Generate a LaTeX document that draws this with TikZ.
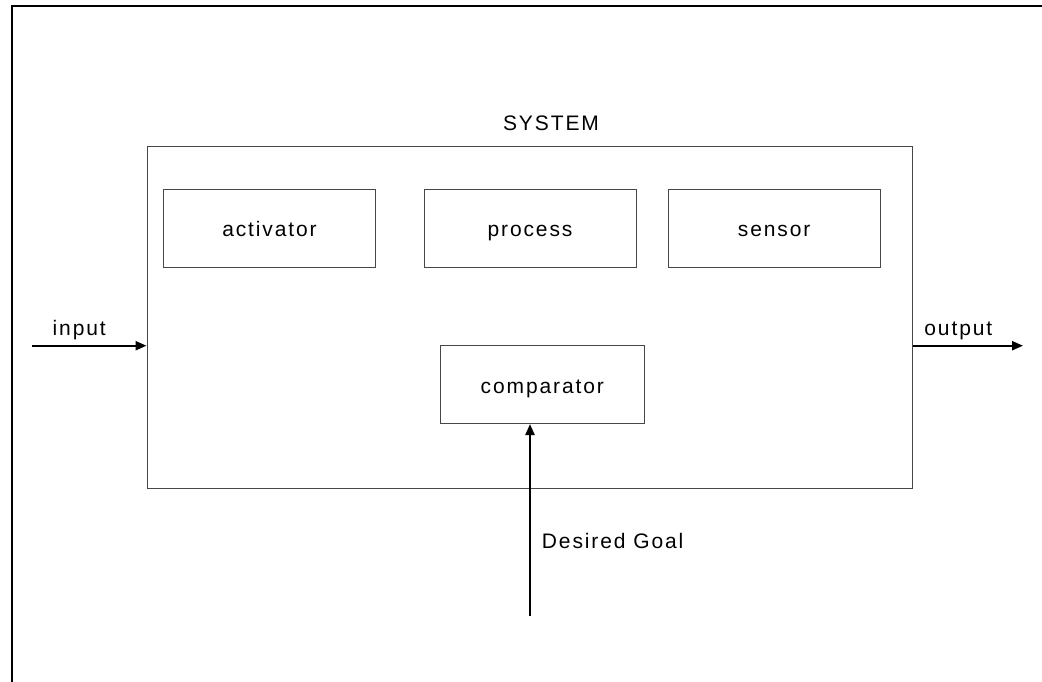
\documentclass[tikz,border=0pt]{standalone}
\usepackage{fontspec}
\setmainfont{Liberation Sans}[LetterSpace=9]
\usetikzlibrary{arrows.meta}
\begin{document}
\begin{tikzpicture}[x=1pt,y=-1pt,
  lbl/.style={inner sep=0pt,font=\fontsize{21}{25}\selectfont},
  blockbox/.style={draw=black!72,line width=1pt,inner sep=0pt,text height=17.4pt,text depth=0pt,font=\fontsize{21}{25}\selectfont},
  flow/.style={line width=2.2pt,-{Triangle[length=11pt,width=9pt]}},
  frame/.style={line width=2.4pt}]
\useasboundingbox (0,0) rectangle (1042,681);
% outer frame (cropped on the right and bottom)
\coordinate (fbl) at (12,700);
\coordinate (ftl) at (12,6);
\coordinate (ftr) at (1060,6);
\draw[frame] (fbl) -- (ftl) -- (ftr);
% system
\node[blockbox,minimum width=765pt,minimum height=342pt] (sys) at (529.5,317) {};
\node[lbl,anchor=base] (systxt) at (551,130.7) {SYSTEM};
\node[blockbox,minimum width=212.5pt,minimum height=78pt] (act) at (269.5,228) {activator};
\node[blockbox,minimum width=212pt,minimum height=78pt] (proc) at (530,228) {process};
\node[blockbox,minimum width=212pt,minimum height=78pt] (sens) at (774.2,228) {sensor};
\node[blockbox,minimum width=203.5pt,minimum height=78pt] (comp) at (542.3,384.5) {comparator};
% input
\coordinate (inS) at (32,345.7);
\draw[flow] (inS) -- (inS -| sys.west);
\node[lbl,anchor=base] (intxt) at (79.2,335.7) {input};
% output
\coordinate (outE) at (1023,345.7);
\draw[flow] (outE -| sys.east) -- (outE);
\node[lbl,anchor=base] (outtxt) at (958.3,335.7) {output};
% desired goal
\coordinate (goal) at (530,616);
\draw[flow] (goal) -- (goal |- comp.south);
\node[lbl,anchor=base west] (goaltxt) at (541.7,548.3) {Desired Goal};
\end{tikzpicture}
\end{document}
